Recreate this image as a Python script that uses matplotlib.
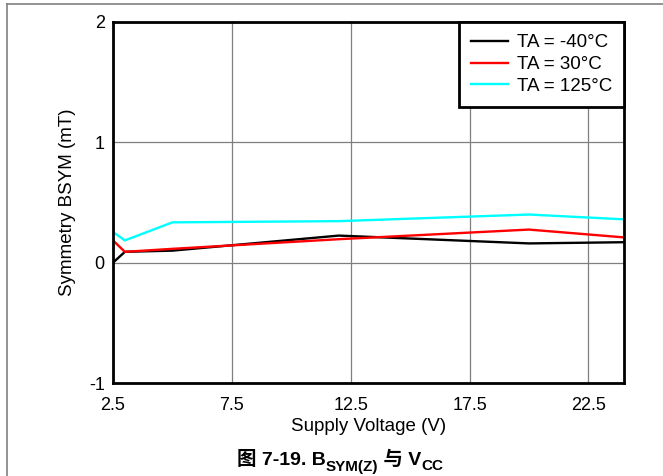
import numpy as np
import matplotlib
matplotlib.use('Agg')
import matplotlib.pyplot as plt
from matplotlib.lines import Line2D

plt.rcParams['font.family'] = ['Liberation Sans', 'Noto Sans CJK SC', 'DejaVu Sans']
plt.rcParams['axes.unicode_minus'] = False

# data
vcc = [2.5, 3, 5, 12, 20, 24]
bsym_m40 = [0.0, 0.09, 0.10, 0.225, 0.16, 0.17]
bsym_30 = [0.185, 0.09, 0.115, 0.195, 0.275, 0.21]
bsym_125 = [0.255, 0.185, 0.335, 0.345, 0.40, 0.36]
series_labels = ['TA = -40°C', 'TA = 30°C', 'TA = 125°C']
x_ticks = [2.5, 7.5, 12.5, 17.5, 22.5]
y_ticks = [-1, 0, 1, 2]

W, H = 663, 476
fig = plt.figure(figsize=(W / 100, H / 100), dpi=100)
ax = fig.add_axes([113 / W, 1 - 383 / H, (624 - 113) / W, (383 - 22) / H])

ax.plot(vcc, bsym_m40, color='black', lw=1.7, label=series_labels[0])
ax.plot(vcc, bsym_30, color='red', lw=1.7, label=series_labels[1])
ax.plot(vcc, bsym_125, color='cyan', lw=1.7, label=series_labels[2])

ax.set_xlim(2.5, 24)
ax.set_ylim(-1, 2)
ax.set_xticks(x_ticks)
ax.set_xticklabels([str(v) for v in x_ticks])
ax.set_yticks(y_ticks)
ax.grid(True, color='#7f7f7f', lw=0.9)
ax.set_axisbelow(True)
ax.tick_params(length=0, labelsize=13)
ax.tick_params(axis='x', pad=10)
ax.tick_params(axis='y', pad=6)
for s in ax.spines.values():
    s.set_linewidth(2)
    s.set_color('black')

ax.set_xlabel('Supply Voltage (V)', fontsize=13.5)
ax.set_ylabel('Symmetry BSYM (mT)', fontsize=13.5)
ax.xaxis.set_label_coords(0.5, -0.096)
ax.yaxis.set_label_coords(-0.072, 0.5)

leg = ax.legend(loc='upper right', fontsize=13.5, frameon=True, fancybox=False,
                borderaxespad=0, handlelength=1.95, labelspacing=0.25,
                borderpad=0.65, handletextpad=0.48)
leg.get_frame().set_edgecolor('black')
leg.get_frame().set_linewidth(2)
leg.get_frame().set_alpha(1)

# outer gray frame (top and left only visible)
fig.add_artist(Line2D([7 / W, 1], [1 - 4 / H, 1 - 4 / H], color='#808080', lw=1.2))
fig.add_artist(Line2D([7 / W, 7 / W], [0, 1 - 4 / H], color='#808080', lw=1.2))

# caption with subscripts
cap_fs = 14
sub_fs = 11
base_y = 1 - 465 / H
pieces = [('图 7-19. B', cap_fs, 0), ('SYM(Z)', sub_fs, -5.5),
          (' 与 V', cap_fs, 0), ('CC', sub_fs, -5.5)]
texts = []
for s, fs, dy in pieces:
    t = fig.text(0, base_y + dy / H, s, fontsize=fs, fontweight='bold',
                 ha='left', va='baseline')
    texts.append(t)

fig.canvas.draw()
r = fig.canvas.get_renderer()
x = 0.3
for t in texts:
    t.set_x(x)
    fig.canvas.draw()
    x = t.get_window_extent(r).x1 / W
x0 = texts[0].get_window_extent(r).x0
x1 = texts[-1].get_window_extent(r).x1
shift = (340 - (x0 + x1) / 2) / W
for t in texts:
    t.set_x(t.get_position()[0] + shift)

fig.savefig('out.png', dpi=100)
